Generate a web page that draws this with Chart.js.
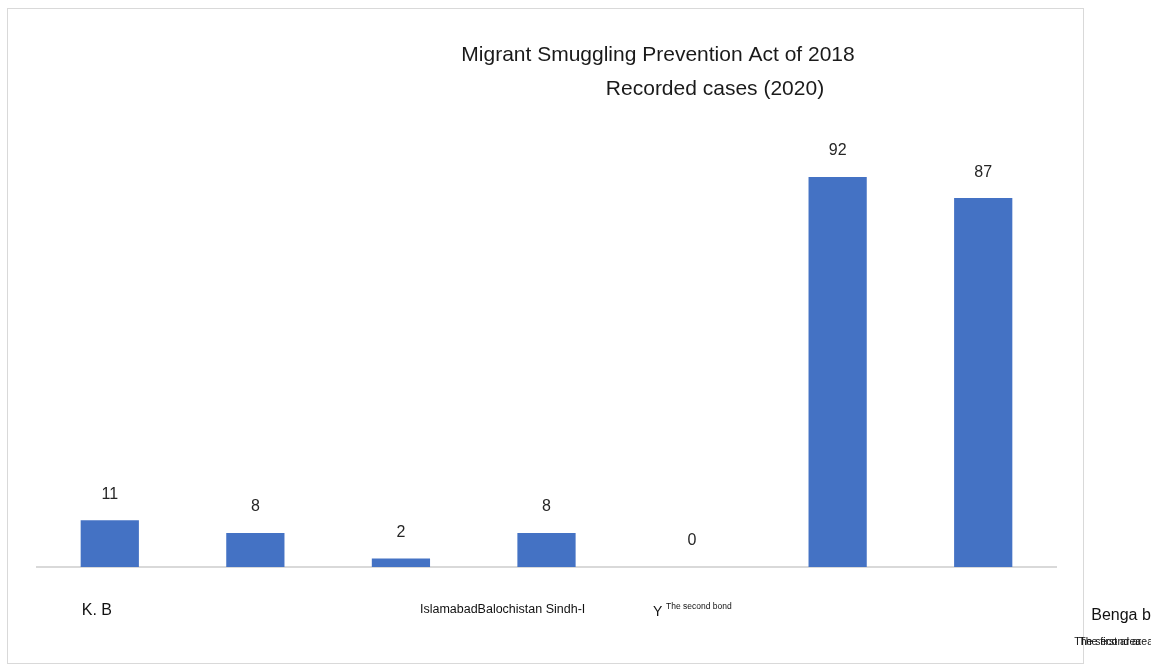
<!DOCTYPE html>
<html>
<head>
<meta charset="utf-8">
<script src="https://cdn.jsdelivr.net/npm/chart.js@4.4.0/dist/chart.umd.min.js"></script>
<style>
  html, body { margin: 0; padding: 0; background: #ffffff; overflow: hidden; }
  #frame { position: absolute; left: 7px; top: 8px; width: 1077px; height: 656px; border: 1px solid #d9d9d9; box-sizing: border-box; }
  #c { position: absolute; left: 0; top: 0; }
</style>
</head>
<body>
<div id="frame"></div>
<canvas id="c" width="1151" height="667"></canvas>
<script>
// ---- data ----
const categories = ["K. B", "", "Islamabad", "Balochistan", "Sindh", "", ""];
const caseCounts = [11, 8, 2, 8, 0, 92, 87];
const titleText = "Migrant Smuggling Prevention Act of 2018";
const subtitleText = "Recorded cases (2020)";
const yTicks = [0, 100];
// axis texts as they appear under the chart
const axisTexts = ["K. B", "IslamabadBalochistan Sindh-I", "Y", "The second bond", "Benga b", "The second area", "The first area"];

const FONT = "'Liberation Sans', Arial, sans-serif";

// layout for the axis texts (anchor category index, offset px, baseline offset, font size)
const axisTextLayout = [
  { idx: 0, dx: -28, dy: 48, size: 16 },
  { idx: 2, dx: 19, dy: 46, size: 12.5 },
  { idx: 4, dx: -39, dy: 49, size: 14 },
  { idx: 4, dx: -26, dy: 42, size: 8.5 },
  { idx: 6, dx: 108, dy: 53, size: 16 },
  { idx: 6, dx: 91, dy: 78, size: 10.5 },
  { idx: 6, dx: 96, dy: 78, size: 10.5 }
];

const overlayPlugin = {
  id: 'overlay',
  afterDatasetsDraw(chart) {
    const ctx = chart.ctx;
    const xs = chart.scales.x;
    const ys = chart.scales.y;
    const meta = chart.getDatasetMeta(0);
    ctx.save();
    // value labels
    ctx.fillStyle = '#262626';
    ctx.font = '16px ' + FONT;
    ctx.textAlign = 'center';
    ctx.textBaseline = 'middle';
    meta.data.forEach((bar, i) => {
      ctx.fillText(String(caseCounts[i]), bar.x, bar.y - 26);
    });
    // titles
    ctx.fillStyle = '#1a1a1a';
    ctx.font = '21px ' + FONT;
    ctx.textBaseline = 'alphabetic';
    ctx.fillText(titleText, 658, 61);
    ctx.fillText(subtitleText, 715, 95);
    // axis texts
    const base = ys.getPixelForValue(0);
    ctx.textAlign = 'left';
    axisTexts.forEach((t, k) => {
      const L = axisTextLayout[k];
      ctx.font = L.size + 'px ' + FONT;
      ctx.fillStyle = '#111111';
      ctx.fillText(t, xs.getPixelForValue(L.idx) + L.dx, base + L.dy);
    });
    ctx.restore();
  }
};

new Chart(document.getElementById('c'), {
  type: 'bar',
  data: {
    labels: categories,
    datasets: [{
      data: caseCounts,
      backgroundColor: '#4472C4',
      borderWidth: 0,
      barPercentage: 0.4,
      categoryPercentage: 1.0
    }]
  },
  options: {
    responsive: false,
    animation: false,
    layout: { padding: { left: 37, right: 95, top: 143, bottom: 100 } },
    plugins: { legend: { display: false }, tooltip: { enabled: false }, title: { display: false } },
    scales: {
      x: {
        grid: { display: false, drawTicks: false },
        border: { display: true, color: '#d9d9d9', width: 2 },
        ticks: { display: false }
      },
      y: {
        display: false,
        min: yTicks[0],
        max: yTicks[1]
      }
    }
  },
  plugins: [overlayPlugin]
});
</script>
</body>
</html>
